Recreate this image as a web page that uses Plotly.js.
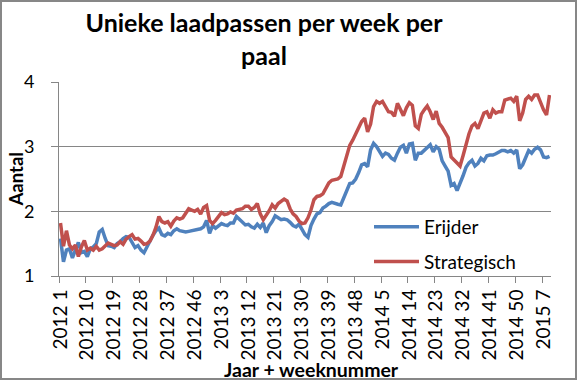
<!DOCTYPE html>
<html>
<head>
<meta charset="utf-8">
<script src="https://cdn.plot.ly/plotly-3.0.1.min.js"></script>
<style>
  html, body { margin: 0; padding: 0; background: #fff; }
  #wrap { position: relative; width: 577px; height: 380px; }
  #chart { width: 577px; height: 380px; }
  #frame { position: absolute; left: 0; top: 0; width: 577px; height: 380px; box-sizing: border-box; border: 2px solid #878787; pointer-events: none; }
</style>
</head>
<body>
<div id="wrap"><div id="chart"></div><div id="frame"></div></div>
<script>
// Years and the number of weeks shown for each year
const years = [2012, 2013, 2014, 2015];
const weeksShown = [52, 52, 52, 9];

// Series values (weekly)
const erijder = [
  1.58,1.22,1.40,1.42,1.28,1.40,1.52,1.36,1.38,1.30,
  1.42,1.45,1.50,1.68,1.72,1.58,1.47,1.46,1.44,1.50,
  1.53,1.58,1.61,1.60,1.52,1.44,1.47,1.40,1.36,1.45,
  1.56,1.63,1.70,1.74,1.64,1.62,1.66,1.64,1.70,1.73,
  1.70,1.69,1.68,1.69,1.70,1.72,1.72,1.73,1.76,1.86,
  1.66,1.78,1.74,1.77,1.81,1.79,1.78,1.82,1.82,1.92,
  1.87,1.84,1.79,1.80,1.76,1.74,1.80,1.75,1.82,1.67,
  1.78,1.84,1.93,1.90,1.87,1.88,1.87,1.83,1.78,1.76,
  1.80,1.72,1.64,1.60,1.78,1.88,1.96,1.98,2.05,2.08,
  2.12,2.14,2.12,2.11,2.10,2.22,2.32,2.43,2.44,2.50,
  2.60,2.72,2.74,2.69,2.95,3.05,3.00,2.93,2.85,2.90,
  2.88,2.82,2.79,2.90,2.99,3.02,2.90,3.04,3.05,2.79,
  2.90,2.90,2.94,2.99,3.03,2.92,3.00,2.96,2.78,2.70,
  2.62,2.40,2.43,2.32,2.42,2.55,2.68,2.75,2.79,2.70,
  2.74,2.82,2.78,2.86,2.87,2.87,2.89,2.92,2.94,2.94,
  2.92,2.94,2.90,2.95,2.66,2.72,2.82,2.94,2.90,2.96,
  2.99,2.95,2.84,2.83,2.85
];
const strategisch = [
  1.82,1.46,1.70,1.48,1.42,1.48,1.30,1.45,1.55,1.40,
  1.43,1.40,1.46,1.40,1.42,1.47,1.51,1.49,1.47,1.48,
  1.53,1.49,1.57,1.61,1.64,1.57,1.58,1.54,1.49,1.50,
  1.54,1.63,1.75,1.92,1.84,1.82,1.84,1.77,1.85,1.90,
  1.88,1.90,1.96,2.04,2.02,2.00,2.03,1.96,2.06,2.09,
  1.86,1.81,1.86,1.92,1.98,1.95,1.96,1.99,1.97,2.02,
  2.03,2.04,2.08,2.08,2.03,2.06,2.12,1.96,1.87,1.93,
  2.01,2.10,2.05,2.12,2.15,2.19,2.16,2.04,1.96,1.92,
  1.85,1.81,1.82,1.90,2.02,2.18,2.23,2.24,2.27,2.36,
  2.44,2.48,2.49,2.50,2.54,2.70,2.90,3.02,3.10,3.20,
  3.30,3.39,3.44,3.23,3.35,3.62,3.70,3.67,3.70,3.62,
  3.54,3.53,3.47,3.67,3.57,3.48,3.60,3.68,3.64,3.32,
  3.28,3.50,3.57,3.63,3.54,3.42,3.55,3.36,3.30,3.22,
  3.14,2.84,2.79,2.75,2.70,2.86,3.05,3.20,3.32,3.36,
  3.28,3.40,3.52,3.54,3.44,3.57,3.52,3.54,3.54,3.72,
  3.73,3.75,3.70,3.78,3.40,3.52,3.73,3.78,3.73,3.80,
  3.80,3.67,3.57,3.49,3.80
];

// Category labels "jaar week"
const categories = [];
years.forEach((y, k) => { for (let w = 1; w <= weeksShown[k]; w++) categories.push(y + ' ' + w); });

const FONT = 'Lato, "Open Sans", "DejaVu Sans", sans-serif';
const GRAY = '#868686';

const traces = [
  { x: categories, y: erijder, name: 'Erijder', type: 'scatter', mode: 'lines',
    line: { color: '#4F81BD', width: 3.5 }, legendgroup: 'a' },
  { x: categories, y: strategisch, name: 'Strategisch', type: 'scatter', mode: 'lines',
    line: { color: '#C0504D', width: 3.5 }, legendgroup: 'b' }
];

const layout = {
  width: 577, height: 380,
  margin: { l: 59, r: 26, t: 82, b: 104 },
  paper_bgcolor: '#fff', plot_bgcolor: '#fff',
  font: { family: FONT, color: '#000' },
  title: {
    text: '<b>Unieke laadpassen per week per<br>paal</b>',
    font: { family: FONT, size: 25, color: '#000' },
    x: 264 / 577, xref: 'container', xanchor: 'center',
    y: 1 - 32 / 380, yref: 'container', yanchor: 'middle'
  },
  xaxis: {
    type: 'category', range: [-0.5, categories.length - 0.5],
    tickmode: 'linear', tick0: 0, dtick: 9, tickson: 'boundaries',
    ticks: 'outside', ticklen: 6, tickcolor: GRAY, tickwidth: 1,
    showline: true, linecolor: GRAY, linewidth: 1, showgrid: false,
    tickangle: -90, tickfont: { family: FONT, size: 19, color: '#000' },
    ticklabelstandoff: 5, fixedrange: true
  },
  yaxis: {
    range: [1, 4], tickmode: 'linear', tick0: 1, dtick: 1,
    showgrid: true, gridcolor: GRAY, gridwidth: 1,
    showline: true, linecolor: GRAY, linewidth: 1, zeroline: false,
    ticks: 'outside', ticklen: 7, tickcolor: GRAY,
    tickfont: { family: FONT, size: 18, color: '#000' },
    ticklabelstandoff: 13, fixedrange: true
  },
  showlegend: true,
  legend: {
    x: (369 - 59) / 492, xanchor: 'left', y: (276 - 208) / 194, yanchor: 'top',
    bgcolor: 'rgba(0,0,0,0)', font: { family: FONT, size: 19, color: '#000' },
    tracegroupgap: 7, itemwidth: 45
  },
  annotations: [
    { text: '<b>Aantal</b>', xref: 'paper', yref: 'paper', x: (15.5 - 59) / 492, y: (276 - 180) / 194,
      xanchor: 'center', yanchor: 'middle', textangle: -90, showarrow: false,
      font: { family: FONT, size: 18.5, color: '#000' } },
    { text: '<b>Jaar + weeknummer</b>', xref: 'paper', yref: 'paper', x: (311 - 59) / 492, y: (276 - 369) / 194,
      xanchor: 'center', yanchor: 'middle', showarrow: false,
      font: { family: FONT, size: 19.5, color: '#000' } }
  ]
};

Plotly.newPlot('chart', traces, layout, { displayModeBar: false, staticPlot: true });
</script>
</body>
</html>
